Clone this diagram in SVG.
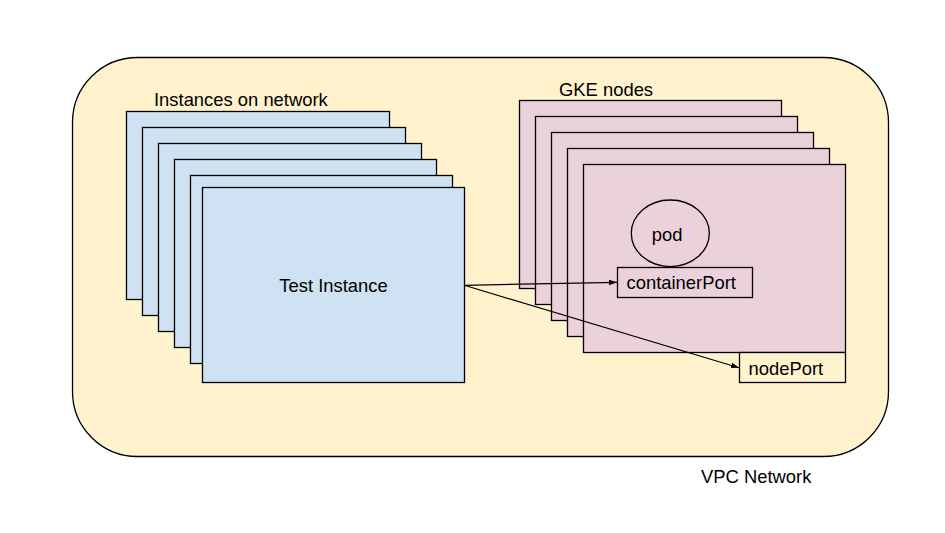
<svg xmlns="http://www.w3.org/2000/svg" width="945" height="533" viewBox="0 0 945 533">
<defs>
<style>
text{font-family:"Liberation Sans",Arial,sans-serif;font-size:18.4px;fill:#000}
.inst{fill:#cfe2f3;stroke:#000;stroke-width:1.3}
.gke{fill:#ead1dc;stroke:#000;stroke-width:1.3}
.port{fill:#fff2cc;stroke:#000;stroke-width:1.3}
.conn{stroke:#000;stroke-width:1.2;fill:none;marker-end:url(#ah)}
</style>
<marker id="ah" viewBox="0 0 10 10" refX="10" refY="5" markerWidth="8" markerHeight="8" markerUnits="userSpaceOnUse" orient="auto">
<path d="M0,1.5 L10,5 L0,8.5 Z" fill="#000"/>
</marker>
</defs>
<rect width="945" height="533" fill="#fff"/>
<g id="vpc">
<rect x="72.5" y="57.5" width="816" height="399" rx="65" ry="65" fill="#fff2cc" stroke="#000" stroke-width="1.3"/>
<text x="701" y="482.5">VPC Network</text>
</g>
<g id="instances">
<rect class="inst" x="126.5" y="111.5" width="263" height="188"/>
<rect class="inst" x="142.5" y="127.5" width="263" height="188"/>
<rect class="inst" x="158.5" y="143.5" width="263" height="188"/>
<rect class="inst" x="174.5" y="159.5" width="262" height="188"/>
<rect class="inst" x="190.5" y="175.5" width="262" height="188"/>
<text x="154" y="106">Instances on network</text>
</g>
<g id="test-instance">
<rect class="inst" x="202.5" y="187.5" width="262" height="195"/>
<text x="333.5" y="291.7" text-anchor="middle">Test Instance</text>
</g>
<g id="gke-nodes">
<rect class="gke" x="519.5" y="100.5" width="262" height="188"/>
<rect class="gke" x="535.5" y="116.5" width="262" height="188"/>
<rect class="gke" x="551.5" y="132.5" width="262" height="188"/>
<rect class="gke" x="567.5" y="148.5" width="262" height="188"/>
<rect class="gke" x="583.5" y="164.5" width="262" height="188"/>
<text x="559" y="95.7">GKE nodes</text>
</g>
<g id="pod">
<ellipse cx="670.3" cy="233.3" rx="39" ry="33.3" fill="#ead1dc" stroke="#000" stroke-width="1.3"/>
<text x="667.2" y="240.7" text-anchor="middle">pod</text>
</g>
<g id="containerPort">
<rect class="gke" x="617.5" y="267.5" width="135" height="30"/>
<text x="626.5" y="289">containerPort</text>
</g>
<g id="nodePort">
<rect class="port" x="739.5" y="352.5" width="106" height="30"/>
<text x="748.5" y="375">nodePort</text>
</g>
<g id="connectors">
<path class="conn" d="M464.3,285.3 L617,282.3"/>
<path class="conn" d="M464.3,285.3 L739,367.7"/>
</g>
</svg>
